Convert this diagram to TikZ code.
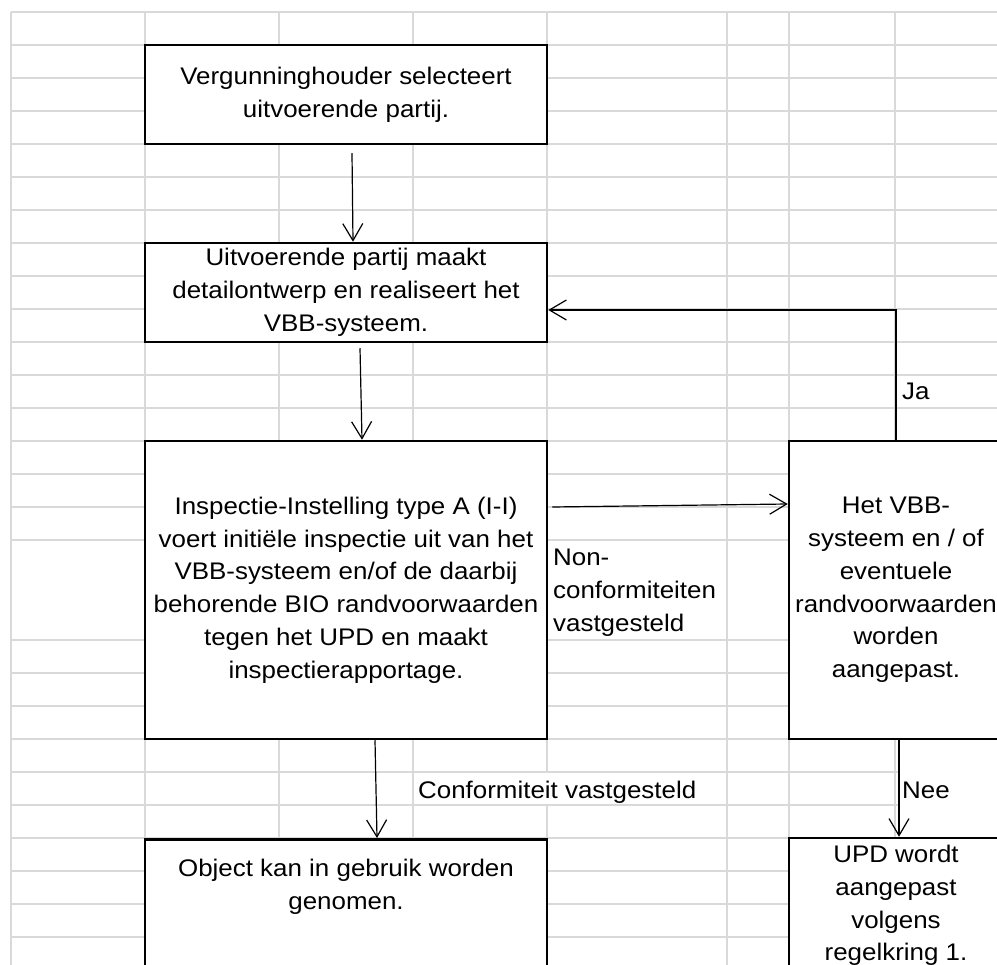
\documentclass[tikz,border=0pt]{standalone}
\usepackage{fontspec}
\setmainfont{Liberation Sans}[FakeStretch=1.08]
\usetikzlibrary{arrows.meta,calc}

\begin{document}
\begin{tikzpicture}[x=1pt,y=-1pt,
  box/.style={draw,line width=2.5pt,fill=white,inner sep=0pt,align=center,font=\fontsize{24}{32.8}\selectfont},
  lbl/.style={inner sep=0pt,align=left,font=\fontsize{24}{32.8}\selectfont},
  arr/.style={line width=1.2pt,-{Straight Barb[length=17pt,width=20pt,line width=1.2pt]}}]
\useasboundingbox (0,0) rectangle (997,965);
\fill[white] (0,0) rectangle (997,965);
\foreach \x in {11,145,279,413,547,727,789,895}
  \draw[black!15,line width=1.3pt] (\x,12) -- (\x,965);
\foreach \y in {12,45,...,540}
  \draw[black!15,line width=1.3pt] (11,\y) -- (997,\y);
\foreach \y in {640,673,...,937}
  \draw[black!15,line width=1.3pt] (11,\y) -- (997,\y);
\fill[white] (414,773) rectangle (726,804);
\fill[white] (898,740) rectangle (997,837);
\node[box,minimum width=402pt,minimum height=99pt] (sel) at (346,94.5) {Vergunninghouder selecteert\\uitvoerende partij.};
\node[box,minimum width=402pt,minimum height=99pt] (real) at (346,292.5) {Uitvoerende partij maakt\\detailontwerp en realiseert het\\VBB-systeem.};
\node[box,minimum width=402pt,minimum height=298pt] (insp) at (346,590) {Inspectie-Instelling type A (I-I)\\voert initiële inspectie uit van het\\VBB-systeem en/of de daarbij\\behorende BIO randvoorwaarden\\tegen het UPD en maakt\\inspectierapportage.};
\node[box,minimum width=402pt,minimum height=200pt,anchor=north] (obj) at (346,838) {};
\node[lbl,align=center] (objtxt) at (346,887) {Object kan in gebruik worden\\genomen.};
\node[box,minimum width=214pt,minimum height=298pt] (aanp) at (896,590) {Het VBB-\\systeem en / of\\eventuele\\randvoorwaarden\\worden\\aangepast.};
\node[box,minimum width=214pt,minimum height=135pt] (upd) at (896,905.5) {UPD wordt\\aangepast\\volgens\\regelkring 1.};
\draw[arr] ($(sel.south)+(6,8)$) -- ($(real.north)+(7,0)$);
\draw[arr] ($(real.south)+(14,5)$) -- ($(insp.north)+(16,0)$);
\draw[arr] ($(insp.south)+(29,0)$) -- ($(obj.north)+(31,0)$);
\draw[arr] ($(insp.east)+(4,-83)$) -- ($(aanp.west)+(0,-86)$);
\draw[arr] (aanp.north) |- ($(real.east)+(0,17.5)$);
\draw[arr] ($(aanp.south)+(3,0)$) -- ($(upd.north)+(3,0)$);
\node[lbl,anchor=base west] (ja) at (902,400) {Ja};
\node[lbl,anchor=base west] (nee) at (902,798) {Nee};
\node[lbl,anchor=west] (nonconf) at (553,593) {Non-\\conformiteiten\\vastgesteld};
\node[lbl,anchor=base west] (conf) at (418,798) {Conformiteit vastgesteld};
\end{tikzpicture}
\end{document}
